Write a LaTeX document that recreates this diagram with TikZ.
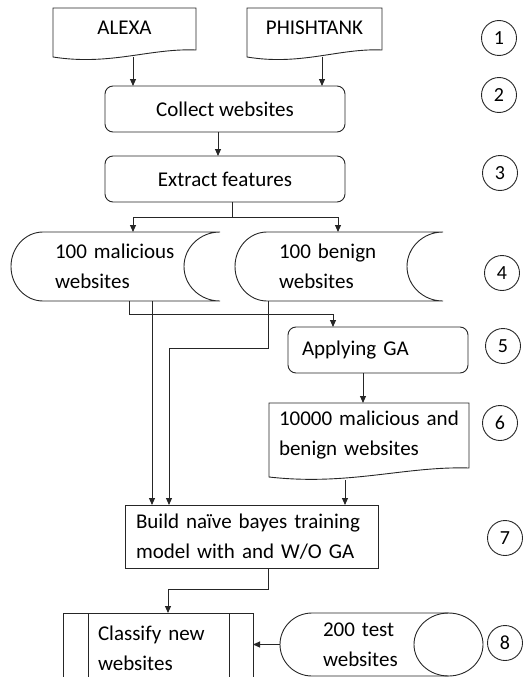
\documentclass[tikz,border=0pt]{standalone}
\usepackage{fontspec}
\setmainfont{Carlito}
\usetikzlibrary{arrows.meta}
\definecolor{linec}{gray}{0.15}
\begin{document}
\begin{tikzpicture}[x=1pt,y=-1pt,
  every node/.style={font=\fontsize{21}{30}\selectfont},
  outline/.style={draw=linec, line width=0.9pt},
  plain/.style={inner sep=0pt, outer sep=0pt},
  rbox/.style={plain, outline, rounded corners=8pt},
  sbox/.style={plain, outline},
  lefttext/.style 2 args={align=left, text width=#1, inner xsep=#2},
  arr/.style={draw=linec, line width=0.9pt, -{Triangle[length=7pt,width=6pt]}},
  line/.style={draw=linec, line width=0.9pt},
  num/.style={circle, draw=linec, line width=0.9pt, minimum size=35pt, inner sep=0pt,
    font=\fontsize{20}{24}\selectfont}]
\useasboundingbox (0,0) rectangle (522,677);

% ---- data sources (document shapes)
\draw[outline] (53,57) -- (53,8) -- (196,8) -- (196,50)
  .. controls (150,48) and (110,66) .. cycle;
\node[plain] (alexa) at (124.5,28) {ALEXA};
\draw[outline] (247,57) -- (247,8) -- (382,8) -- (382,50)
  .. controls (339,48) and (301,66) .. cycle;
\node[plain] (phish) at (314.5,28) {PHISHTANK};

% ---- processing steps
\node[rbox, minimum width=240pt, minimum height=46pt] (collect) at (225,109) {Collect websites};
\node[rbox, minimum width=240pt, minimum height=46pt] (extract) at (225,179) {Extract features};

% ---- stored data shapes
\draw[outline] (43,232) -- (220,232)
  arc[start angle=270, end angle=90, x radius=36, y radius=34.5]
  -- (43,301) arc[start angle=90, end angle=270, x radius=32, y radius=34.5] -- cycle;
\node[plain, lefttext={121pt}{44pt}, minimum height=69pt] (mal) at (115.5,266.5)
  {100 malicious\\websites};
\draw[outline] (267,232) -- (443,232)
  arc[start angle=270, end angle=90, x radius=36, y radius=34.5]
  -- (267,301) arc[start angle=90, end angle=270, x radius=32, y radius=34.5] -- cycle;
\node[plain, lefttext={120pt}{44pt}, minimum height=69pt] (ben) at (339,266.5)
  {100 benign\\websites};

% ---- genetic algorithm
\node[rbox, lefttext={152pt}{14pt}, minimum height=46pt] (apply) at (378,350) {Applying GA};
\draw[outline] (269,477) -- (269,403) -- (469,403) -- (469,468)
  .. controls (405,466) and (349,486) .. cycle;
\node[plain, lefttext={180pt}{10pt}, minimum height=65pt] (doc) at (369,435.5)
  {10000 malicious and\\benign websites};

% ---- model and classification
\node[sbox, lefttext={231pt}{11pt}, minimum height=63pt] (build) at (251.5,536.5)
  {Build naïve bayes training\\model with and W/O GA};
\node[sbox, lefttext={120pt}{35pt}, minimum height=70pt] (cls) at (158,648)
  {Classify new\\websites};
\draw[line] ([xshift=25pt]cls.north west) -- ([xshift=25pt]cls.south west);
\draw[line] ([xshift=-24pt]cls.north east) -- ([xshift=-24pt]cls.south east);

% ---- test set (direct access storage)
\draw[outline] (448.5,613) -- (312,613)
  arc[start angle=270, end angle=90, x radius=32, y radius=31.5] -- (448.5,676);
\draw[outline] (448.5,644.5) ellipse[x radius=34.5, y radius=31.5];
\node[plain, lefttext={117pt}{43pt}, minimum height=63pt] (test) at (381.5,644.5)
  {200 test\\websites};

% ---- step numbers
\node[num] (n1) at (499,38) {1};
\node[num] (n2) at (499,95) {2};
\node[num] (n3) at (500,173) {3};
\node[num] (n4) at (502,273) {4};
\node[num] (n5) at (503,346) {5};
\node[num] (n6) at (500,423) {6};
\node[num] (n7) at (505,538) {7};
\node[num] (n8) at (505,643) {8};

% ---- connectors
\coordinate (alexa-out) at (133,57);
\coordinate (phish-out) at (322,57);
\coordinate (doc-out) at (345,480);
\draw[arr] (alexa-out) -- (alexa-out |- collect.north);
\draw[arr] (phish-out) -- (phish-out |- collect.north);
\draw[arr] ([xshift=-7pt]collect.south) -- ([xshift=-7pt]extract.north);
\draw[line] ([xshift=7pt]extract.south) -- ++(0,15) coordinate (split);
\draw[arr] (split) -| ([xshift=17.5pt]mal.north);
\draw[arr] (split) -| ([xshift=-1pt]ben.north);
\draw[arr] ([xshift=13.5pt]mal.south) -- ++(0,13) -| ([xshift=-45pt]apply.north);
\draw[arr] ([xshift=36.5pt]mal.south) -- ([xshift=36.5pt]mal.south |- build.north);
\draw[arr] ([xshift=-71pt]ben.south) -- ++(0,47) -| ([xshift=-82.5pt]build.north);
\draw[arr] ([xshift=-15pt]apply.south) -- ([xshift=-15pt]apply.south |- doc.north);
\draw[arr] (doc-out) -- (doc-out |- build.north);
\draw[arr] ([xshift=16.5pt]build.south) -- ++(0,21) -| ([xshift=10pt]cls.north);
\draw[arr] (test.west) -- (test.west -| cls.east);
\end{tikzpicture}
\end{document}
